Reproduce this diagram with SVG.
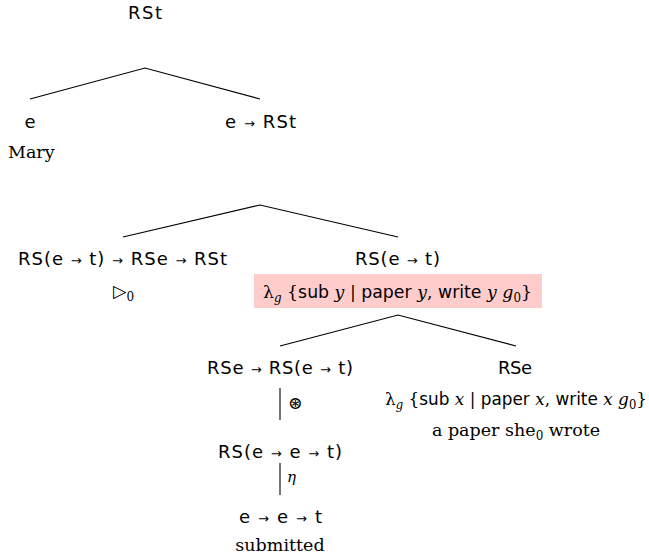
<svg xmlns="http://www.w3.org/2000/svg" width="649" height="556" viewBox="0 0 649 556">
<style>
.ty{font-family:"DejaVu Sans",sans-serif;font-size:18px;fill:#000}
.ar{font-size:13px}
.sr{font-family:"DejaVu Serif",serif;font-size:17.5px;fill:#000}
.ss{font-family:"DejaVu Sans",sans-serif}
.it{font-family:"DejaVu Serif",serif;font-style:italic}
.ln{stroke:#000;stroke-width:1.1;fill:none}
</style>
<rect width="649" height="556" fill="#fff"/>
<g id="connectors">
<polyline class="ln" points="30,99 145,68 260,99"/>
<polyline class="ln" points="123,237 260,205 398,237"/>
<polyline class="ln" points="280,346 398,315 516,346"/>
<line class="ln" x1="280" y1="388" x2="280" y2="420"/>
<line class="ln" x1="280" y1="463" x2="280" y2="495"/>
</g>
<g id="n-root"><text class="ty" x="128" y="19" textLength="34" lengthAdjust="spacing">RSt</text></g>
<g id="n-mary"><text class="ty" x="30" y="128" text-anchor="middle">e</text><text class="sr" x="8" y="158">Mary</text></g>
<g id="n-vp"><text class="ty" x="225" y="128" textLength="71" lengthAdjust="spacing">e <tspan class="ar">→</tspan> RSt</text></g>
<g id="n-lift"><text class="ty" x="18" y="265" textLength="209" lengthAdjust="spacing">RS(e <tspan class="ar">→</tspan> t) <tspan class="ar">→</tspan> RSe <tspan class="ar">→</tspan> RSt</text>
<text class="sr" x="113" y="297">▷<tspan font-size="12" dy="4">0</tspan></text></g>
<g id="n-rset">
<rect x="254" y="274" width="288" height="34" fill="#ffcccc"/>
<text class="ty" x="355" y="265" textLength="85" lengthAdjust="spacing">RS(e <tspan class="ar">→</tspan> t)</text>
<text class="sr" x="263" y="298" textLength="269" lengthAdjust="spacingAndGlyphs">λ<tspan class="it" font-size="12" dy="4">g</tspan><tspan dy="-4"> {</tspan><tspan class="ss">sub</tspan><tspan class="it"> y</tspan> | <tspan class="ss">paper</tspan><tspan class="it"> y</tspan>, <tspan class="ss">write</tspan><tspan class="it"> y g</tspan><tspan font-size="12" dy="4">0</tspan><tspan dy="-4">}</tspan></text>
</g>
<g id="n-sub">
<text class="ty" x="207" y="374" textLength="146" lengthAdjust="spacing">RSe <tspan class="ar">→</tspan> RS(e <tspan class="ar">→</tspan> t)</text>
<text class="sr" x="288" y="409" font-size="11">⊛</text>
<text class="ty" x="218" y="458" textLength="124" lengthAdjust="spacing">RS(e <tspan class="ar">→</tspan> e <tspan class="ar">→</tspan> t)</text>
<text class="it" x="287" y="482" font-size="15">η</text>
<text class="ty" x="239" y="523" textLength="83" lengthAdjust="spacing">e <tspan class="ar">→</tspan> e <tspan class="ar">→</tspan> t</text>
<text class="sr" x="280" y="551" text-anchor="middle">submitted</text>
</g>
<g id="n-paper">
<text class="ty" x="498" y="374" textLength="34" lengthAdjust="spacing">RSe</text>
<text class="sr" x="385" y="405" textLength="262" lengthAdjust="spacingAndGlyphs">λ<tspan class="it" font-size="12" dy="4">g</tspan><tspan dy="-4"> {</tspan><tspan class="ss">sub</tspan><tspan class="it"> x</tspan> | <tspan class="ss">paper</tspan><tspan class="it"> x</tspan>, <tspan class="ss">write</tspan><tspan class="it"> x g</tspan><tspan font-size="12" dy="4">0</tspan><tspan dy="-4">}</tspan></text>
<text class="sr" x="516" y="436" text-anchor="middle">a paper she<tspan font-size="12" dy="4">0</tspan><tspan dy="-4"> wrote</tspan></text>
</g>
</svg>
